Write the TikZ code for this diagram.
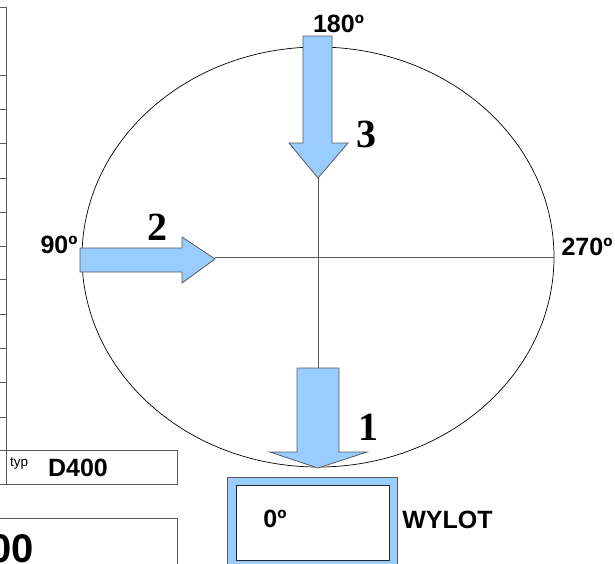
\documentclass[tikz,border=0pt]{standalone}
\usepackage{fontspec}
\setmainfont{Liberation Sans}
\newfontfamily\numfont{Liberation Serif}
\definecolor{arrowblue}{RGB}{153,204,255}
\definecolor{edgegray}{RGB}{90,90,90}
\begin{document}
\begin{tikzpicture}[x=1pt,y=-1pt,
  blockarrow/.style={fill=arrowblue,draw=edgegray,line width=0.8pt,line join=miter},
  axis/.style={draw=edgegray,line width=0.8pt},
  frame/.style={draw=edgegray,line width=0.9pt},
  lbl/.style={font=\fontsize{25}{25}\selectfont\bfseries,inner sep=0pt,anchor=base},
  num/.style={font=\fontsize{40}{40}\numfont\bfseries,inner sep=0pt,anchor=base},
]
\useasboundingbox (0,0) rectangle (615,563);
% ellipse
\draw[black,line width=0.7pt] (318,257) ellipse [x radius=236, y radius=210];
% named coordinates
\coordinate (tip3) at (318,178);
\coordinate (tip2) at (215,257);
\coordinate (top1) at (318,368);
\coordinate (right) at (554,257);
\coordinate (centre) at (318,257);
% connectors
\draw[axis] (tip2) -- (right);
\draw[axis] (tip3) -- (top1);
% arrow 3 (down, top)
\path[blockarrow] (303,36) -- (332,36) -- (332,143) -- (348,143) -- (318,178) -- (289,143) -- (303,143) -- cycle;
% arrow 2 (right)
\path[blockarrow] (80,248) -- (182,248) -- (182,237) -- (215,259) -- (182,283) -- (182,272) -- (80,272) -- cycle;
% arrow 1 (down, bottom)
\path[blockarrow] (297,368) -- (339,368) -- (339,452) -- (367,452) -- (318,468) -- (270,452) -- (297,452) -- cycle;
% outlet box
\path[fill=arrowblue,draw=edgegray,line width=0.9pt] (227,477) rectangle (397,570);
\node[draw=black!85,line width=0.8pt,fill=white,minimum width=153pt,minimum height=75pt,inner sep=0pt,anchor=north west] (outlet) at (236,485) {};
% labels
\node[lbl] (l180) at (338.5,32) {180º};
\node[lbl] (l90) at (59,253) {90º};
\node[lbl] (l270) at (587,255) {270º};
\node[lbl] (l0) at (275,527) {0º};
\node[lbl] (wylot) at (447.5,528) {WYLOT};
\node[num] (n3) at (366,147) {3};
\node[num] (n2) at (157.5,240) {2};
\node[num] (n1) at (368.5,440) {1};
% left table
\draw[frame,line width=0.8pt] (6.5,7) -- (6.5,484);
\foreach \yy in {7,75,109,143,178,212,246,279,314,348,382,417}
  \draw[draw=edgegray,line width=0.8pt] (-1,\yy) -- (6.5,\yy);
\draw[frame] (-1,450) rectangle (177,484);
\node[font=\fontsize{13.5}{13.5}\selectfont,inner sep=0pt,anchor=base west] (typ) at (10,466) {typ};
\node[lbl] (d400) at (78,476) {D400};
\draw[frame] (-1,518) rectangle (177,570);
\begin{scope}
\clip (0,0) rectangle (615,563);
\node[font=\fontsize{40}{40}\selectfont\bfseries,inner sep=0pt,anchor=base east] (big) at (34,562) {00};
\end{scope}
\end{tikzpicture}
\end{document}
